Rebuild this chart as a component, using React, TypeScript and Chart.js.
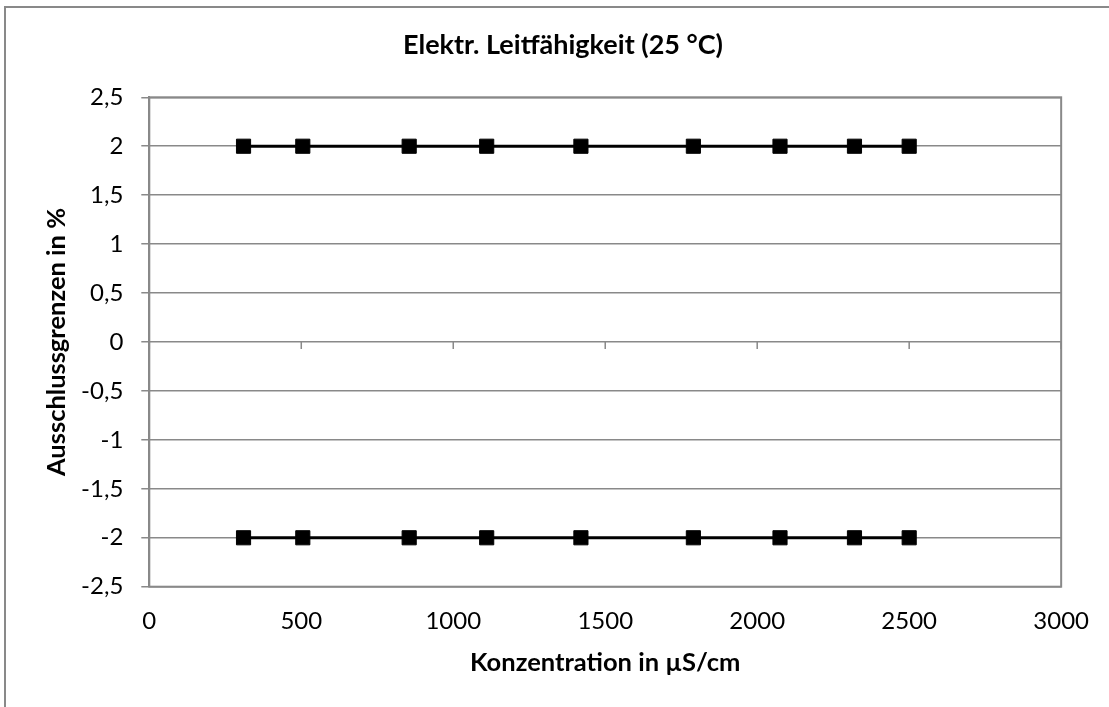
import React, { useEffect, useRef } from "react";
import { Chart, registerables } from "chart.js";

Chart.register(...registerables);

const concentrations = [310, 505, 855, 1110, 1420, 1790, 2075, 2320, 2500];
const upperLimit = [2, 2, 2, 2, 2, 2, 2, 2, 2];
const lowerLimit = [-2, -2, -2, -2, -2, -2, -2, -2, -2];
const xTicks = [0, 500, 1000, 1500, 2000, 2500, 3000];

const titleText = "Elektr. Leitfähigkeit (25 °C)";
const xTitle = "Konzentration in µS/cm";
const yTitle = "Ausschlussgrenzen in %";

const GRAY = "#898989";
const FONT = "Lato, 'Open Sans', sans-serif";

const framePlugin = {
  id: "frame",
  beforeDraw(chart: any) {
    const ctx = chart.ctx;
    ctx.save();
    ctx.strokeStyle = GRAY;
    ctx.lineWidth = 2;
    ctx.beginPath();
    ctx.moveTo(5, 709);
    ctx.lineTo(5, 7);
    ctx.lineTo(1112, 7);
    ctx.stroke();
    ctx.restore();
  },
  beforeDatasetsDraw(chart: any) {
    const ctx = chart.ctx;
    const a = chart.chartArea;
    const xs = chart.scales.x;
    const ys = chart.scales.y;
    ctx.save();
    ctx.strokeStyle = GRAY;
    ctx.lineWidth = 2;
    ctx.strokeRect(a.left, a.top, a.right - a.left, a.bottom - a.top);
    const y0 = ys.getPixelForValue(0);
    ctx.lineWidth = 1.5;
    ctx.beginPath();
    xTicks.forEach((v) => {
      const px = xs.getPixelForValue(v);
      ctx.moveTo(px, y0);
      ctx.lineTo(px, y0 + 7);
    });
    ctx.stroke();
    ctx.restore();
  },
};

export default function App() {
  const ref = useRef<HTMLCanvasElement>(null);
  useEffect(() => {
    if (!ref.current) return;
    const mk = (data: number[], label: string) => ({
      label,
      data: concentrations.map((x, i) => ({ x, y: data[i] })),
      borderColor: "#000",
      backgroundColor: "#000",
      borderWidth: 3,
      pointStyle: "rect",
      pointRadius: 10,
      pointBorderWidth: 1,
      pointBackgroundColor: "#000",
      pointBorderColor: "#000",
      showLine: true,
      tension: 0,
    });
    const chart = new Chart(ref.current, {
      type: "scatter",
      data: {
        datasets: [mk(upperLimit, "Obere Grenze"), mk(lowerLimit, "Untere Grenze")],
      },
      plugins: [framePlugin],
      options: {
        animation: false,
        responsive: false,
        maintainAspectRatio: false,
        layout: { padding: { left: 61, right: 44, top: 0, bottom: 0 } },
        plugins: {
          legend: { display: false },
          tooltip: { enabled: false },
          title: {
            display: true,
            text: titleText,
            color: "#000",
            font: { family: FONT, size: 27, weight: "bold" },
            padding: { top: 28.8, bottom: 36.1 },
          },
        },
        scales: {
          x: {
            type: "linear",
            min: 0,
            max: 3000,
            afterBuildTicks: (s: any) => {
              s.ticks = xTicks.map((v) => ({ value: v }));
            },
            afterFit: (s: any) => {
              s.height = 120.3;
            },
            grid: { display: false, drawTicks: false },
            border: { display: false },
            ticks: {
              color: "#000",
              font: { family: FONT, size: 24 },
              padding: 20,
              maxRotation: 0,
              autoSkip: false,
              callback: (v: any) => String(v),
            },
            title: {
              display: true,
              text: xTitle,
              color: "#000",
              font: { family: FONT, size: 25.5, weight: "bold" },
              padding: { top: 0, bottom: 28.7 },
            },
          },
          y: {
            type: "linear",
            min: -2.5,
            max: 2.5,
            afterFit: (s: any) => {
              s.width = 149.3 - 61;
            },
            ticks: {
              stepSize: 0.5,
              color: "#000",
              font: { family: FONT, size: 24 },
              padding: 18,
              callback: (v: any) => String(v).replace(".", ","),
            },
            grid: {
              color: GRAY,
              lineWidth: 1.5,
              drawTicks: true,
              tickLength: 8,
            },
            border: { display: true, color: GRAY, width: 2 },
            title: {
              display: true,
              text: yTitle,
              color: "#000",
              font: { family: FONT, size: 25.5, weight: "bold" },
              padding: { top: -19.3, bottom: 0 },
            },
          },
        },
      },
    } as any);
    return () => chart.destroy();
  }, []);
  return (
    <div style={{ position: "fixed", left: 0, top: 0, width: 1109, height: 707, background: "#fff" }}>
      <canvas ref={ref} width={1109} height={707} style={{ width: 1109, height: 707, display: "block" }} />
    </div>
  );
}
